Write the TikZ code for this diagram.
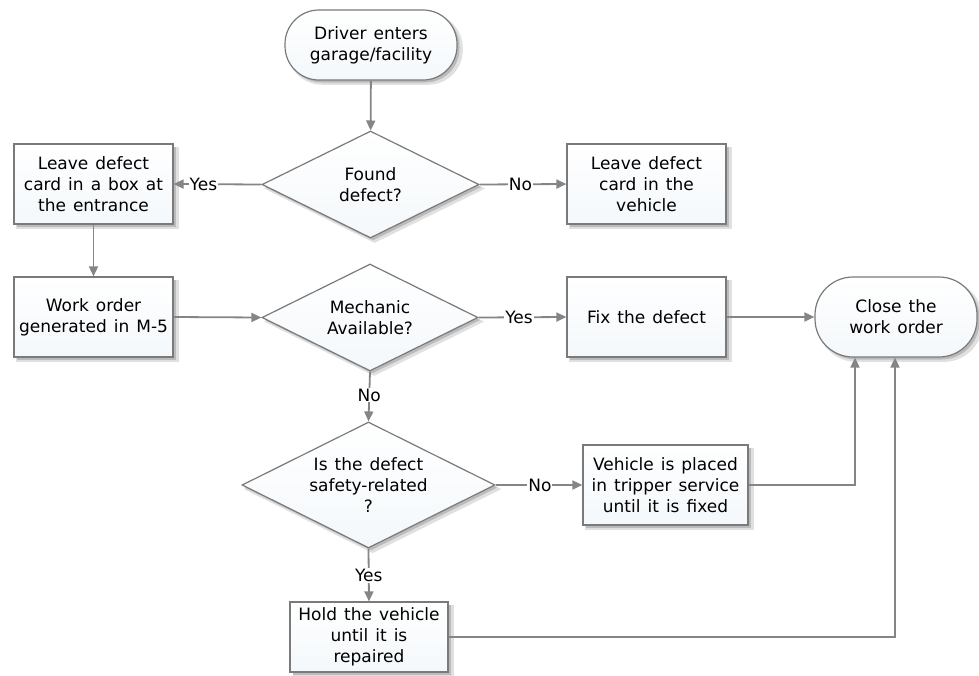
\documentclass[tikz,border=0pt]{standalone}
\usepackage{fontspec}
\setmainfont[WordSpace=1.3]{DejaVu Sans}
\usetikzlibrary{shapes.geometric,arrows.meta,shadows,positioning}
\definecolor{edge}{HTML}{858585}
\definecolor{border}{HTML}{7A7A7A}
\definecolor{boxfill}{HTML}{F4F8FB}
\tikzset{
  base/.style={draw=border, line width=1.2pt, top color=white, bottom color=boxfill,
    align=center, font=\fontsize{17}{21}\selectfont, inner sep=0pt,
    drop shadow={shadow xshift=4pt, shadow yshift=-4pt, opacity=0.12, fill=black, shadow scale=1.02},
    drop shadow={shadow xshift=2.5pt, shadow yshift=-2.5pt, opacity=0.25, fill=black!70}},
  procbox/.style={base, rectangle, minimum width=159pt, minimum height=80pt},
  terminal/.style={base, rectangle, rounded corners=34pt, minimum height=70pt},
  decision/.style={base, diamond, aspect=2},
  conn/.style={draw=edge, line width=1.8pt, -{Triangle[length=10pt,width=9pt]}},
  lbl/.style={fill=white, inner sep=1pt, font=\fontsize{17}{20}\selectfont, text=black}
}
\begin{document}
\begin{tikzpicture}[x=1pt,y=-1pt]
\useasboundingbox (0,0) rectangle (979,675);
% nodes
\node[terminal, minimum width=172pt] (start) at (371,45) {Driver enters\\garage/facility};
\node[decision, minimum width=217pt, minimum height=107pt] (d1) at (370.5,184.5) {Found\\defect?};
\node[procbox] (l1) at (93.5,184) {Leave defect\\card in a box at\\the entrance};
\node[procbox] (r1) at (646.5,184) {Leave defect\\card in the\\vehicle};
\node[procbox] (wo) at (93.5,317) {Work order\\generated in M-5};
\node[decision, minimum width=216pt, minimum height=107pt] (d2) at (370,317.5) {Mechanic\\Available?};
\node[procbox] (fix) at (646.5,317) {Fix the defect};
\node[terminal, minimum width=162pt, minimum height=80pt, rounded corners=38pt] (close) at (896,317) {Close the\\work order};
\node[decision, minimum width=253pt, minimum height=126pt] (d3) at (368.5,485) {Is the defect\\safety-related\\?};
\node[procbox, minimum width=165pt] (veh) at (665.5,485) {Vehicle is placed\\in tripper service\\until it is fixed};
\node[procbox, minimum width=158pt, minimum height=70pt] (hold) at (369,637) {Hold the vehicle\\until it is\\repaired};
\coordinate (c1) at (855,485);
\coordinate (c2) at (895,637);
% connectors
\draw[conn] (start) -- (d1);
\draw[conn] (d1.west) -- node[lbl, pos=0.66] {Yes} (l1.east);
\draw[conn] (d1.east) -- node[lbl, pos=0.47] {No} (r1.west);
\draw[conn] (l1) -- (wo);
\draw[conn] (wo.east) -- (d2.west);
\draw[conn] (d2.east) -- node[lbl, pos=0.46] {Yes} (fix.west);
\draw[conn] (fix.east) -- (close.west);
\draw[conn] (d2.south) -- node[lbl, pos=0.47] {No} (d3.north);
\draw[conn] (d3.east) -- node[lbl, pos=0.51] {No} (veh.west);
\draw[conn] (d3.south) -- node[lbl, pos=0.51] {Yes} (hold.north);
\draw[conn] (veh.east) -- (c1) -- (c1 |- close.south);
\draw[conn] (hold.east) -- (c2) -- (c2 |- close.south);
\end{tikzpicture}
\end{document}
